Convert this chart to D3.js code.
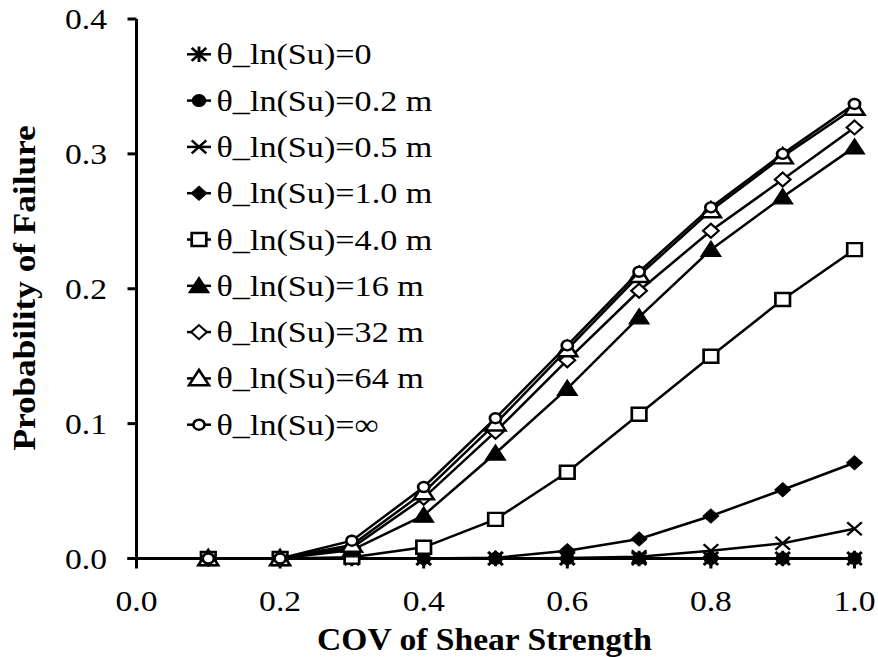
<!DOCTYPE html>
<html>
<head>
<meta charset="utf-8">
<script src="https://cdn.jsdelivr.net/npm/d3@7"></script>
<style>
	html, body { margin: 0; padding: 0; background: #fff; }
	svg { display: block; }
</style>
</head>
<body>
<svg id="chart" width="878" height="657"></svg>
<script>
	// x values (COV of shear strength)
	var cov = [0.1, 0.2, 0.3, 0.4, 0.5, 0.6, 0.7, 0.8, 0.9, 1.0];
	// probability of failure per correlation length
	var pfZero = [0, 0, 0, 0, 0, 0, 0, 0, 0, 0];
	var pf02 = [0, 0, 0, 0, 0, 0, 0, 0, 0, 0];
	var pf05 = [0, 0, 0, 0, 0, 0.0003, 0.0013, 0.0058, 0.0113, 0.022];
	var pf1 = [0, 0, 0, 0, 0.0005, 0.0058, 0.0145, 0.0315, 0.051, 0.071];
	var pf4 = [0, 0, 0.001, 0.0083, 0.029, 0.064, 0.107, 0.150, 0.192, 0.229];
	var pf16 = [0, 0, 0.0063, 0.032, 0.078, 0.126, 0.179, 0.229, 0.268, 0.305];
	var pf32 = [0, 0, 0.008, 0.045, 0.094, 0.147, 0.1985, 0.243, 0.281, 0.3196];
	var pf64 = [0, 0, 0.010, 0.049, 0.100, 0.155, 0.210, 0.258, 0.298, 0.334];
	var pfInf = [0, 0, 0.0132, 0.053, 0.104, 0.158, 0.2126, 0.2603, 0.300, 0.337];
	var seriesNames = ['θ_ln(Su)=0', 'θ_ln(Su)=0.2 m', 'θ_ln(Su)=0.5 m', 'θ_ln(Su)=1.0 m',
		'θ_ln(Su)=4.0 m', 'θ_ln(Su)=16 m', 'θ_ln(Su)=32 m', 'θ_ln(Su)=64 m', 'θ_ln(Su)=∞'];
	var xTicks = [0, 0.2, 0.4, 0.6, 0.8, 1.0];
	var yTicks = [0, 0.1, 0.2, 0.3, 0.4];

	(function () {
		'use strict';
		var svg = d3.select('#chart'),
			serif = "'Liberation Serif', 'Times New Roman', serif",
			stretch = 1.12,
			x, y, line, series, styles, shapes, plot, legend;

		svg.style('font-family', serif);

		x = d3.scaleLinear().domain([0, 1]).range([136.5, 854.5]);
		y = d3.scaleLinear().domain([0, 0.4]).range([558.5, 19]);

		// marker shapes, size = half width
		shapes = {
			star: { draw: function (c, r) {
				c.moveTo(-r, -r); c.lineTo(r, r);
				c.moveTo(r, -r); c.lineTo(-r, r);
				c.moveTo(0, -r * 1.2); c.lineTo(0, r * 1.2);
			} },
			cross: { draw: function (c, r) {
				c.moveTo(-r, -r); c.lineTo(r, r);
				c.moveTo(r, -r); c.lineTo(-r, r);
			} },
			circle: { draw: function (c, r) {
				c.moveTo(r, 0); c.arc(0, 0, r, 0, 2 * Math.PI);
			} },
			diamond: { draw: function (c, r) {
				c.moveTo(0, -r); c.lineTo(r, 0); c.lineTo(0, r); c.lineTo(-r, 0); c.closePath();
			} },
			square: { draw: function (c, r) {
				c.rect(-r, -r, 2 * r, 2 * r);
			} },
			triangle: { draw: function (c, r) {
				c.moveTo(0, -r); c.lineTo(r * 1.05, r * 0.8); c.lineTo(-r * 1.05, r * 0.8); c.closePath();
			} }
		};

		styles = [
			{ shape: 'star', size: 6.5, fill: 'none', sw: 2.6 },
			{ shape: 'circle', size: 6, fill: '#000', sw: 1 },
			{ shape: 'cross', size: 6.5, fill: 'none', sw: 2.2 },
			{ shape: 'diamond', size: 7, fill: '#000', sw: 1 },
			{ shape: 'square', size: 6.5, fill: '#fff', sw: 2.4 },
			{ shape: 'triangle', size: 8.5, fill: '#000', sw: 1.2 },
			{ shape: 'diamond', size: 7, fill: '#fff', sw: 2 },
			{ shape: 'triangle', size: 8.5, fill: '#fff', sw: 2.4 },
			{ shape: 'circle', size: 5, fill: '#fff', sw: 2.4 }
		];

		series = [pfZero, pf02, pf05, pf1, pf4, pf16, pf32, pf64, pfInf].map(function (vals, i) {
			return {
				name: seriesNames[i],
				style: styles[i],
				points: vals.map(function (v, j) { return { x: cov[j], y: v }; })
			};
		});

		// axes
		svg.append('line')
			.attr('x1', x(0)).attr('x2', x(0))
			.attr('y1', y(0.4)).attr('y2', y(0))
			.attr('stroke', '#000').attr('stroke-width', 3);
		svg.append('line')
			.attr('x1', x(0) - 9).attr('x2', x(1) + 5)
			.attr('y1', y(0)).attr('y2', y(0))
			.attr('stroke', '#000').attr('stroke-width', 3);

		svg.selectAll('line.ytick').data(yTicks).enter().append('line')
			.attr('class', 'ytick')
			.attr('x1', x(0) - 9).attr('x2', x(0))
			.attr('y1', function (d) { return y(d); })
			.attr('y2', function (d) { return y(d); })
			.attr('stroke', '#000').attr('stroke-width', 3);
		svg.selectAll('line.xtick').data(xTicks).enter().append('line')
			.attr('class', 'xtick')
			.attr('x1', function (d) { return x(d); })
			.attr('x2', function (d) { return x(d); })
			.attr('y1', y(0)).attr('y2', y(0) + 10)
			.attr('stroke', '#000').attr('stroke-width', 3);

		svg.selectAll('text.ylab').data(yTicks).enter().append('text')
			.attr('class', 'ylab')
			.attr('text-anchor', 'end')
			.attr('font-size', 30)
			.attr('transform', function (d) {
				return 'translate(107,' + (y(d) + 10) + ') scale(' + stretch + ',1)';
			})
			.text(function (d) { return d.toFixed(1); });

		svg.selectAll('text.xlab').data(xTicks).enter().append('text')
			.attr('class', 'xlab')
			.attr('text-anchor', 'middle')
			.attr('font-size', 30)
			.attr('transform', function (d) {
				return 'translate(' + x(d) + ',611) scale(' + stretch + ',1)';
			})
			.text(function (d) { return d.toFixed(1); });

		svg.append('text')
			.attr('text-anchor', 'middle')
			.attr('font-size', 32).attr('font-weight', 'bold')
			.attr('transform', 'translate(' + ((x(0) + x(1)) / 2 - 11) + ',650) scale(1.05,1)')
			.text('COV of Shear Strength');

		svg.append('text')
			.attr('text-anchor', 'middle')
			.attr('font-size', 32).attr('font-weight', 'bold')
			.attr('transform', 'translate(35,288) rotate(-90) scale(1.1,1)')
			.text('Probability of Failure');

		// series lines and markers
		line = d3.line()
			.x(function (d) { return x(d.x); })
			.y(function (d) { return y(d.y); });

		plot = svg.selectAll('g.series').data(series).enter().append('g')
			.attr('class', 'series');

		plot.append('path')
			.attr('d', function (d) { return line(d.points); })
			.attr('fill', 'none')
			.attr('stroke', '#000')
			.attr('stroke-width', 2.5);

		plot.each(function (s) {
			d3.select(this).selectAll('path.mark').data(s.points).enter().append('path')
				.attr('class', 'mark')
				.attr('d', d3.symbol(shapes[s.style.shape], s.style.size))
				.attr('transform', function (d) {
					return 'translate(' + x(d.x) + ',' + y(d.y) + ') scale(' + stretch + ',1)';
				})
				.attr('fill', s.style.fill)
				.attr('stroke', '#000')
				.attr('stroke-width', s.style.sw);
		});

		// legend
		legend = svg.selectAll('g.legend').data(series).enter().append('g')
			.attr('class', 'legend')
			.attr('transform', function (d, i) { return 'translate(0,' + (54.3 + i * 46.3) + ')'; });

		legend.append('line')
			.attr('x1', 187).attr('x2', 211)
			.attr('stroke', '#000').attr('stroke-width', 2.5);

		legend.append('path')
			.attr('d', function (d) { return d3.symbol(shapes[d.style.shape], d.style.size)(); })
			.attr('transform', 'translate(199,0) scale(' + stretch + ',1)')
			.attr('fill', function (d) { return d.style.fill; })
			.attr('stroke', '#000')
			.attr('stroke-width', function (d) { return d.style.sw; });

		legend.append('text')
			.attr('font-size', 30.5)
			.attr('transform', 'translate(216.5,10) scale(' + stretch + ',1)')
			.text(function (d) { return d.name; });
	}());
</script>
</body>
</html>
